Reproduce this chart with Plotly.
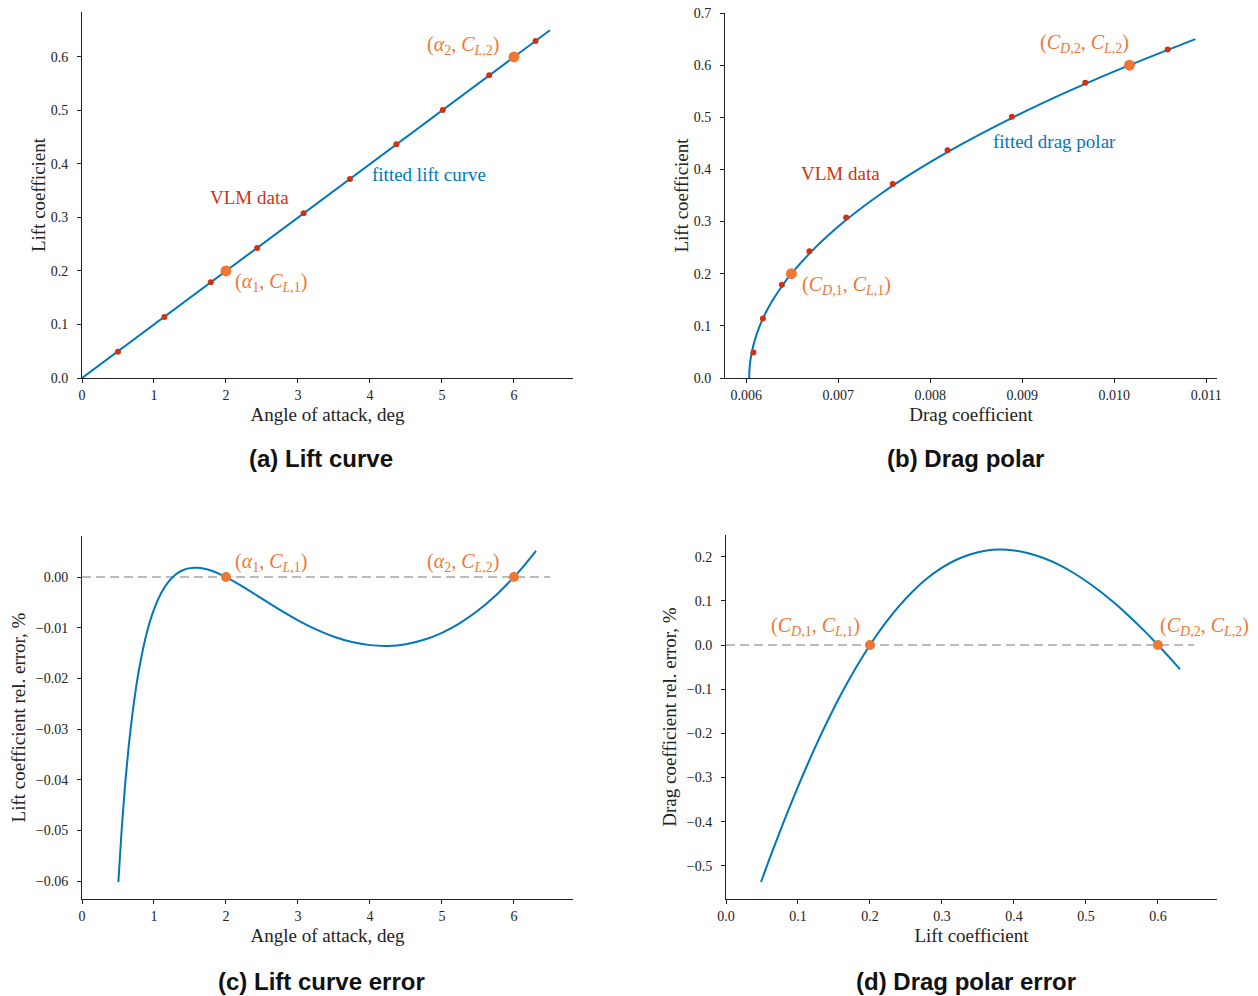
import plotly.graph_objects as go

W, H = 1258, 996
BLUE = "#0077BB"
RED = "#CC3311"
ORANGE = "#EE7733"
GREY = "#BBBBBB"
INK = "#222222"
SERIF = "Liberation Serif"
SANS = "Liberation Sans"

# ---------------- data ----------------
# (a) lift curve
alpha_vlm = [0.500, 1.144, 1.789, 2.433, 3.078, 3.722, 4.367, 5.011, 5.656, 6.300]
cl_vlm = [0.049, 0.114, 0.179, 0.243, 0.308, 0.372, 0.437, 0.501, 0.566, 0.630]
alpha_fit = [0.0, 6.5]
cl_fit = [0.0, 0.65]
alpha_pts = [2.0, 6.0]
cl_pts = [0.2, 0.6]

# (b) drag polar
cd_vlm = [0.006077, 0.006180, 0.006386, 0.006686, 0.007085, 0.007591,
          0.008187, 0.008886, 0.009684, 0.010580]
cl_polar_fit = [0.0, 0.01, 0.02, 0.03, 0.05, 0.075, 0.1, 0.125, 0.15, 0.175, 0.2,
                0.25, 0.3, 0.35, 0.4, 0.45, 0.5, 0.55, 0.6, 0.65]
cd_polar_fit = [0.006031, 0.006032, 0.006036, 0.006041, 0.006060, 0.006096, 0.006146,
                0.006210, 0.006289, 0.006383, 0.006490, 0.006749, 0.007064, 0.007437,
                0.007868, 0.008356, 0.008901, 0.009504, 0.010164, 0.010881]
cd_pts = [0.00649, 0.010164]

# (c) lift curve error, %
alpha_err = [0.505, 0.55, 0.6, 0.65, 0.7, 0.75, 0.8, 0.9, 1.0, 1.1, 1.2, 1.3, 1.4,
             1.5, 1.6, 1.7, 1.8, 1.9, 2.0, 2.25, 2.5, 2.75, 3.0, 3.25, 3.5, 3.75,
             4.0, 4.25, 4.5, 4.75, 5.0, 5.25, 5.5, 5.75, 6.0, 6.15, 6.306]
cl_err = [-0.06018, -0.04999, -0.04075, -0.03321, -0.02701, -0.02187, -0.01758,
          -0.01100, -0.00637, -0.003143, -0.000941, 0.000496, 0.001352, 0.001764,
          0.001833, 0.001636, 0.001235, 0.000677, 0.0, -0.002021, -0.004253,
          -0.006471, -0.008526, -0.010314, -0.01176, -0.012811, -0.013426,
          -0.013574, -0.013230, -0.012376, -0.010996, -0.009077, -0.006611,
          -0.003587, 0.0, 0.002425, 0.005166]
zero_c_x = [0.0, 6.5]
zero_c_y = [0.0, 0.0]
err_pts_c_y = [0.0, 0.0]

# (d) drag polar error, %
cl_err_d = [0.0486, 0.06, 0.08, 0.10, 0.12, 0.14, 0.16, 0.18, 0.20, 0.22, 0.24, 0.26,
            0.28, 0.30, 0.32, 0.34, 0.36, 0.38, 0.40, 0.42, 0.44, 0.46, 0.48, 0.50,
            0.52, 0.54, 0.56, 0.58, 0.60, 0.62, 0.6306]
cd_err = [-0.5365, -0.4860, -0.4009, -0.3205, -0.2453, -0.1754, -0.1111, -0.05263,
          0.0, 0.04671, 0.08749, 0.1224, 0.1515, 0.1750, 0.1929, 0.2056, 0.2132,
          0.2159, 0.2140, 0.2078, 0.1976, 0.1835, 0.1658, 0.1449, 0.1210, 0.09431,
          0.06510, 0.03359, 0.0, -0.03545, -0.05493]
zero_d_x = [0.0, 0.65]
zero_d_y = [0.0, 0.0]
cl_pts_d = [0.2, 0.6]
err_pts_d_y = [0.0, 0.0]

# ---------------- figure ----------------
fig = go.Figure()


def line(x, y, xa, ya, color=BLUE, width=2, dash=None, shape="spline"):
    ln = dict(color=color, width=width, dash=dash, shape=shape)
    if shape == "spline":
        ln["smoothing"] = 0.6
    fig.add_trace(go.Scatter(x=x, y=y, xaxis=xa, yaxis=ya, mode="lines", line=ln,
                             hoverinfo="skip", showlegend=False))


def dots(x, y, xa, ya, color, size):
    fig.add_trace(go.Scatter(x=x, y=y, xaxis=xa, yaxis=ya, mode="markers",
                             marker=dict(color=color, size=size, line=dict(width=0)),
                             hoverinfo="skip", showlegend=False))


# (a)
line(alpha_fit, cl_fit, "x", "y", shape="linear")
dots(alpha_vlm, cl_vlm, "x", "y", RED, 6)
dots(alpha_pts, cl_pts, "x", "y", ORANGE, 11)
# (b)
line(cd_polar_fit, cl_polar_fit, "x2", "y2")
dots(cd_vlm, cl_vlm, "x2", "y2", RED, 6)
dots(cd_pts, cl_pts, "x2", "y2", ORANGE, 11)
# (c)
line(zero_c_x, zero_c_y, "x3", "y3", color=GREY, width=2, dash="9px,5px", shape="linear")
line(alpha_err, cl_err, "x3", "y3")
dots(alpha_pts, err_pts_c_y, "x3", "y3", ORANGE, 10)
# (d)
line(zero_d_x, zero_d_y, "x4", "y4", color=GREY, width=2, dash="9px,5px", shape="linear")
line(cl_err_d, cd_err, "x4", "y4")
dots(cl_pts_d, err_pts_d_y, "x4", "y4", ORANGE, 10)


def dx(a, b):
    return [a / W, b / W]


def dy(top, bottom):
    return [1 - bottom / H, 1 - top / H]


def axis(title, domain, rng, tickvals, fmt, anchor, standoff, lblpad=0):
    return dict(domain=domain, range=rng, anchor=anchor, tickvals=tickvals, tickformat=fmt,
                automargin=False,
                showline=True, linecolor=INK, linewidth=1, mirror=False,
                ticks="outside", ticklen=4, tickwidth=1, tickcolor=INK,
                ticklabelstandoff=lblpad,
                showgrid=False, zeroline=False,
                tickfont=dict(family=SERIF, size=14, color=INK),
                title=dict(text=title, font=dict(family=SERIF, size=19, color=INK),
                           standoff=standoff))


fig.update_layout(
    width=W, height=H, margin=dict(l=0, r=0, t=0, b=0, autoexpand=False),
    paper_bgcolor="white", plot_bgcolor="white", showlegend=False,
    xaxis=axis("Angle of attack, deg", dx(82, 573), [0, 6.82], [0, 1, 2, 3, 4, 5, 6], "d", "y", 5),
    yaxis=axis("Lift coefficient", dy(12, 378), [0, 0.684], [0, 0.1, 0.2, 0.3, 0.4, 0.5, 0.6],
               ".1f", "x", 0, 6),
    xaxis2=axis("Drag coefficient", dx(725, 1217), [0.005768, 0.011116],
                [0.006, 0.007, 0.008, 0.009, 0.010, 0.011], ".3f", "y2", 5),
    yaxis2=axis("Lift coefficient", dy(13, 378), [0, 0.7], [0, 0.1, 0.2, 0.3, 0.4, 0.5, 0.6, 0.7],
                ".1f", "x2", 0, 6),
    xaxis3=axis("Angle of attack, deg", dx(82, 573), [0, 6.82], [0, 1, 2, 3, 4, 5, 6], "d", "y3", 5),
    yaxis3=axis("Lift coefficient rel. error, %", dy(536, 899), [-0.0635, 0.0081],
                [0.0, -0.01, -0.02, -0.03, -0.04, -0.05, -0.06], ".2f", "x3", 5, 6),
    xaxis4=axis("Lift coefficient", dx(726, 1217), [0, 0.682], [0, 0.1, 0.2, 0.3, 0.4, 0.5, 0.6],
                ".1f", "y4", 5),
    yaxis4=axis("Drag coefficient rel. error, %", dy(535, 899), [-0.575, 0.249],
                [0.2, 0.1, 0.0, -0.1, -0.2, -0.3, -0.4, -0.5], ".1f", "x4", 5, 6),
)

P1 = "(<i>α</i><sub>1</sub>, <i>C</i><sub><i>L</i>,1</sub>)"
P2 = "(<i>α</i><sub>2</sub>, <i>C</i><sub><i>L</i>,2</sub>)"
D1 = "(<i>C</i><sub><i>D</i>,1</sub>, <i>C</i><sub><i>L</i>,1</sub>)"
D2 = "(<i>C</i><sub><i>D</i>,2</sub>, <i>C</i><sub><i>L</i>,2</sub>)"

ann = []


def note(text, x, y, xref, yref, color, xanchor="left", size=19):
    ann.append(dict(text=text, x=x, y=y, xref=xref, yref=yref, showarrow=False,
                    xanchor=xanchor, yanchor="middle",
                    font=dict(family=SERIF, size=size, color=color)))


# (a)
note("VLM data", 2.33, 0.338, "x", "y", RED, "center")
note("fitted lift curve", 4.0, 0.381, "x", "y", BLUE, "left")
note(P1, 2.1, 0.178, "x", "y", ORANGE, "left", 20)
note(P2, 5.82, 0.622, "x", "y", ORANGE, "right", 20)
# (b)
note("VLM data", 0.007022, 0.393, "x2", "y2", RED, "center")
note("fitted drag polar", 0.00866, 0.453, "x2", "y2", BLUE, "left")
note(D1, 0.00658, 0.178, "x2", "y2", ORANGE, "left", 20)
note(D2, 0.010185, 0.641, "x2", "y2", ORANGE, "right", 20)
# (c)
note(P1, 2.1, 0.0029, "x3", "y3", ORANGE, "left", 20)
note(P2, 5.82, 0.0029, "x3", "y3", ORANGE, "right", 20)
# (d)
note(D1, 0.189, 0.041, "x4", "y4", ORANGE, "right", 20)
note(D2, 0.6, 0.041, "x4", "y4", ORANGE, "left", 20)

# panel titles
for text, cx, cy in [("(a) Lift curve", 321, 459), ("(b) Drag polar", 966, 459),
                     ("(c) Lift curve error", 321, 981), ("(d) Drag polar error", 966, 981)]:
    ann.append(dict(text="<b>" + text + "</b>", x=cx / W, y=1 - cy / H, xref="paper", yref="paper",
                    showarrow=False, xanchor="center", yanchor="middle",
                    font=dict(family=SANS, size=24, color="#111111")))

fig.update_layout(annotations=ann)
fig.write_html("out.html",
               config={"displayModeBar": False},
               post_script="document.body.style.margin='0';document.body.style.padding='0';"
                           "document.body.style.overflow='hidden';")
